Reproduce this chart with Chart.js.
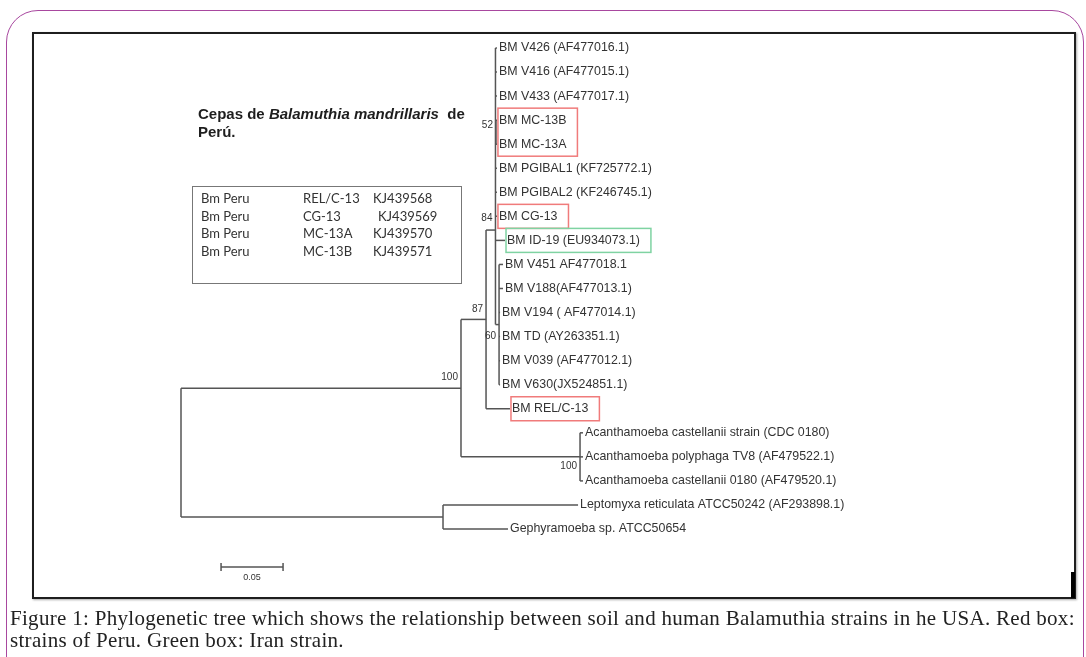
<!DOCTYPE html>
<html>
<head>
<meta charset="utf-8">
<script src="https://cdn.jsdelivr.net/npm/chart.js@4"></script>
<style>
  html, body { margin: 0; padding: 0; background: #fff; }
  #page { position: relative; width: 1086px; height: 657px; overflow: hidden; }
  #card { position: absolute; left: 6px; top: 10px; width: 1076px; height: 720px;
          border: 1.5px solid #a8479f; border-radius: 32px; }
  #frame { position: absolute; left: 32px; top: 32px; width: 1040px; height: 563px;
           border: 2px solid #1e1e1e; box-shadow: 1px 1px 2px #aaa; }
  #bar { position: absolute; left: 1071px; top: 572px; width: 4px; height: 26px; background: #000; }
  canvas { position: absolute; left: 0; top: 0; }
  #title { position: absolute; left: 198px; top: 105px; color: #1e1e1e;
           font: bold 15px "Liberation Sans", Arial, sans-serif; line-height: 18px; }
  #legend { position: absolute; left: 192px; top: 186px; width: 268px; height: 96px;
            border: 1px solid #777; font: 13px Lato, sans-serif; color: #333; }
  #legend span { position: absolute; white-space: nowrap; }
  #caption { position: absolute; left: 10px; top: 607px; color: #222; white-space: nowrap;
             font: 21px "Liberation Serif", "Times New Roman", serif; line-height: 22px;
             letter-spacing: 0.3px; }
</style>
</head>
<body>
<div id="page">
  <div id="card"></div>
  <div id="frame"></div>
  <div id="bar"></div>
  <canvas id="tree" width="1086" height="657"></canvas>
  <div id="title">Cepas de <i>Balamuthia mandrillaris</i>&nbsp; de<br>Perú.</div>
  <div id="legend"></div>
  <div id="caption">Figure 1: Phylogenetic tree which shows the relationship between soil and human Balamuthia strains in he USA. Red box:<br>strains of Peru. Green box: Iran strain.</div>
</div>
<script>
/* Tree data: tips are numbered 1..21 top to bottom, depth = branch length from root. */
const taxa = [
  'BM V426 (AF477016.1)', 'BM V416 (AF477015.1)', 'BM V433 (AF477017.1)',
  'BM MC-13B', 'BM MC-13A', 'BM PGIBAL1 (KF725772.1)', 'BM PGIBAL2 (KF246745.1)',
  'BM CG-13', 'BM ID-19 (EU934073.1)', 'BM V451 AF477018.1', 'BM V188(AF477013.1)',
  'BM V194 ( AF477014.1)', 'BM TD (AY263351.1)', 'BM V039 (AF477012.1)', 'BM V630(JX524851.1)',
  'BM REL/C-13', 'Acanthamoeba castellanii strain (CDC 0180)',
  'Acanthamoeba polyphaga TV8 (AF479522.1)', 'Acanthamoeba castellanii 0180 (AF479520.1)',
  'Leptomyxa reticulata ATCC50242 (AF293898.1)', 'Gephyramoeba sp. ATCC50654',
];
const tipDepth = [
  0.2548, 0.2548, 0.2548, 0.2548, 0.2548, 0.2548, 0.2548, 0.2548, 0.2613,
  0.2597, 0.2597, 0.2573, 0.2573, 0.2573, 0.2573, 0.2653,
  0.3242, 0.3242, 0.3242, 0.3202, 0.2637,
];

const nodeIds = ['root', 'n100', 'n87', 'n84', 'n52', 'n60', 'nAca', 'nOut'];
const nodeDepth = [0, 0.2258, 0.2460, 0.2536, 0.2540, 0.2565, 0.3218, 0.2113];
const nodeChildren = [
  ['n100', 'nOut'],
  ['n87', 'nAca'],
  ['n84', 16],
  [1, 2, 3, 'n52', 6, 7, 8, 9, 'n60'],
  [4, 5],
  [10, 11, 12, 13, 14, 15],
  [17, 18, 19],
  [20, 21],
];
const nodeSupport = ['', '100', '87', '84', '52', '60', '100', ''];
const nodeRow = [null, null, null, 8.57, null, null, null, null]; // MEGA placed 84 off-centre

const redBoxes = [[4, 5], [8, 8], [16, 16]];
const greenBoxes = [[9, 9]];

const scaleBarStart = 0.0323;
const scaleBarLength = 0.05;
const scaleBarRow = 22.58;

const legendHost = ['Bm Peru', 'Bm Peru', 'Bm Peru', 'Bm Peru'];
const legendStrain = ['REL/C-13', 'CG-13', 'MC-13A', 'MC-13B'];
const legendAccession = ['KJ439568', 'KJ439569', 'KJ439570', 'KJ439571'];

/* layout / style */
const LINE = '#555';
const TEXT = '#333';
const supportDy = { n100: -11, n87: -10, n84: -12, n52: -7, n60: 12, nAca: 9 };

// legend box
const legendEl = document.getElementById('legend');
legendHost.forEach((h, i) => {
  const top = 3 + i * 17.7;
  [[h, 8], [legendStrain[i], 110], [legendAccession[i], i === 1 ? 185 : 180]].forEach(([t, left]) => {
    const s = document.createElement('span');
    s.textContent = t;
    s.style.left = left + 'px';
    s.style.top = top + 'px';
    legendEl.appendChild(s);
  });
});

// resolve row (y) of every node
const rowOf = {};
function resolve(id) {
  if (typeof id === 'number') return id;
  if (rowOf[id] != null) return rowOf[id];
  const k = nodeIds.indexOf(id);
  const rows = nodeChildren[k].map(resolve);
  rowOf[id] = nodeRow[k] != null ? nodeRow[k] : (Math.min(...rows) + Math.max(...rows)) / 2;
  return rowOf[id];
}
nodeIds.forEach(resolve);
const depthOf = (id) => (typeof id === 'number' ? tipDepth[id - 1] : nodeDepth[nodeIds.indexOf(id)]);

const segments = [];
nodeIds.forEach((id, k) => {
  const rows = nodeChildren[k].map(resolve);
  segments.push([{ x: nodeDepth[k], y: Math.min(...rows) }, { x: nodeDepth[k], y: Math.max(...rows) }]);
  nodeChildren[k].forEach((c) => {
    const r = resolve(c);
    segments.push([{ x: nodeDepth[k], y: r }, { x: depthOf(c), y: r }]);
  });
});
// scale bar
const sbEnd = scaleBarStart + scaleBarLength;
segments.push([{ x: scaleBarStart, y: scaleBarRow }, { x: sbEnd, y: scaleBarRow }]);
segments.push([{ x: scaleBarStart, y: scaleBarRow - 0.17 }, { x: scaleBarStart, y: scaleBarRow + 0.17 }]);
segments.push([{ x: sbEnd, y: scaleBarRow - 0.17 }, { x: sbEnd, y: scaleBarRow + 0.17 }]);

const datasets = segments.map((pts) => ({
  data: pts, showLine: true, borderColor: LINE, borderWidth: 1.5,
  pointRadius: 0, fill: false, clip: false,
}));

const labelsPlugin = {
  id: 'treeLabels',
  afterDatasetsDraw(chart) {
    const { ctx, scales: { x, y } } = chart;
    ctx.save();
    ctx.textBaseline = 'middle';

    // tip labels
    ctx.font = '12.4px "Liberation Sans", Arial, sans-serif';
    ctx.fillStyle = TEXT;
    ctx.textAlign = 'left';
    taxa.forEach((t, i) => {
      ctx.fillText(t, x.getPixelForValue(tipDepth[i]) + 2, y.getPixelForValue(i + 1));
    });

    // highlight boxes
    const box = (from, to, color) => {
      let w = 0;
      for (let r = from; r <= to; r++) w = Math.max(w, ctx.measureText(taxa[r - 1]).width);
      const left = x.getPixelForValue(tipDepth[from - 1]) + 1;
      const top = y.getPixelForValue(from) - 12;
      const bottom = y.getPixelForValue(to) + 12;
      ctx.strokeStyle = color;
      ctx.lineWidth = 1.5;
      ctx.strokeRect(left, top, w + 12, bottom - top);
    };
    redBoxes.forEach(([a, b]) => box(a, b, '#f07b7b'));
    greenBoxes.forEach(([a, b]) => box(a, b, '#7fd3a2'));

    // bootstrap values
    ctx.font = '10px "Liberation Sans", Arial, sans-serif';
    ctx.textAlign = 'right';
    nodeIds.forEach((id, k) => {
      if (!nodeSupport[k]) return;
      ctx.fillText(nodeSupport[k], x.getPixelForValue(nodeDepth[k]) - 3,
        y.getPixelForValue(rowOf[id]) + supportDy[id]);
    });

    // scale bar label
    ctx.font = '9px "Liberation Sans", Arial, sans-serif';
    ctx.textAlign = 'center';
    ctx.fillText(String(scaleBarLength), x.getPixelForValue(scaleBarStart + scaleBarLength / 2),
      y.getPixelForValue(scaleBarRow) + 11);
    ctx.restore();
  },
};

new Chart(document.getElementById('tree'), {
  type: 'scatter',
  data: { datasets },
  options: {
    responsive: false,
    animation: false,
    events: [],
    layout: { padding: { left: 34, right: 12, top: 34, bottom: 60 } },
    plugins: { legend: { display: false }, tooltip: { enabled: false } },
    scales: {
      x: { display: false, min: -0.11855, max: 0.72016 },
      y: { display: false, reverse: true, min: 0.4179, max: 23.827 },
    },
  },
  plugins: [labelsPlugin],
});
</script>
</body>
</html>
